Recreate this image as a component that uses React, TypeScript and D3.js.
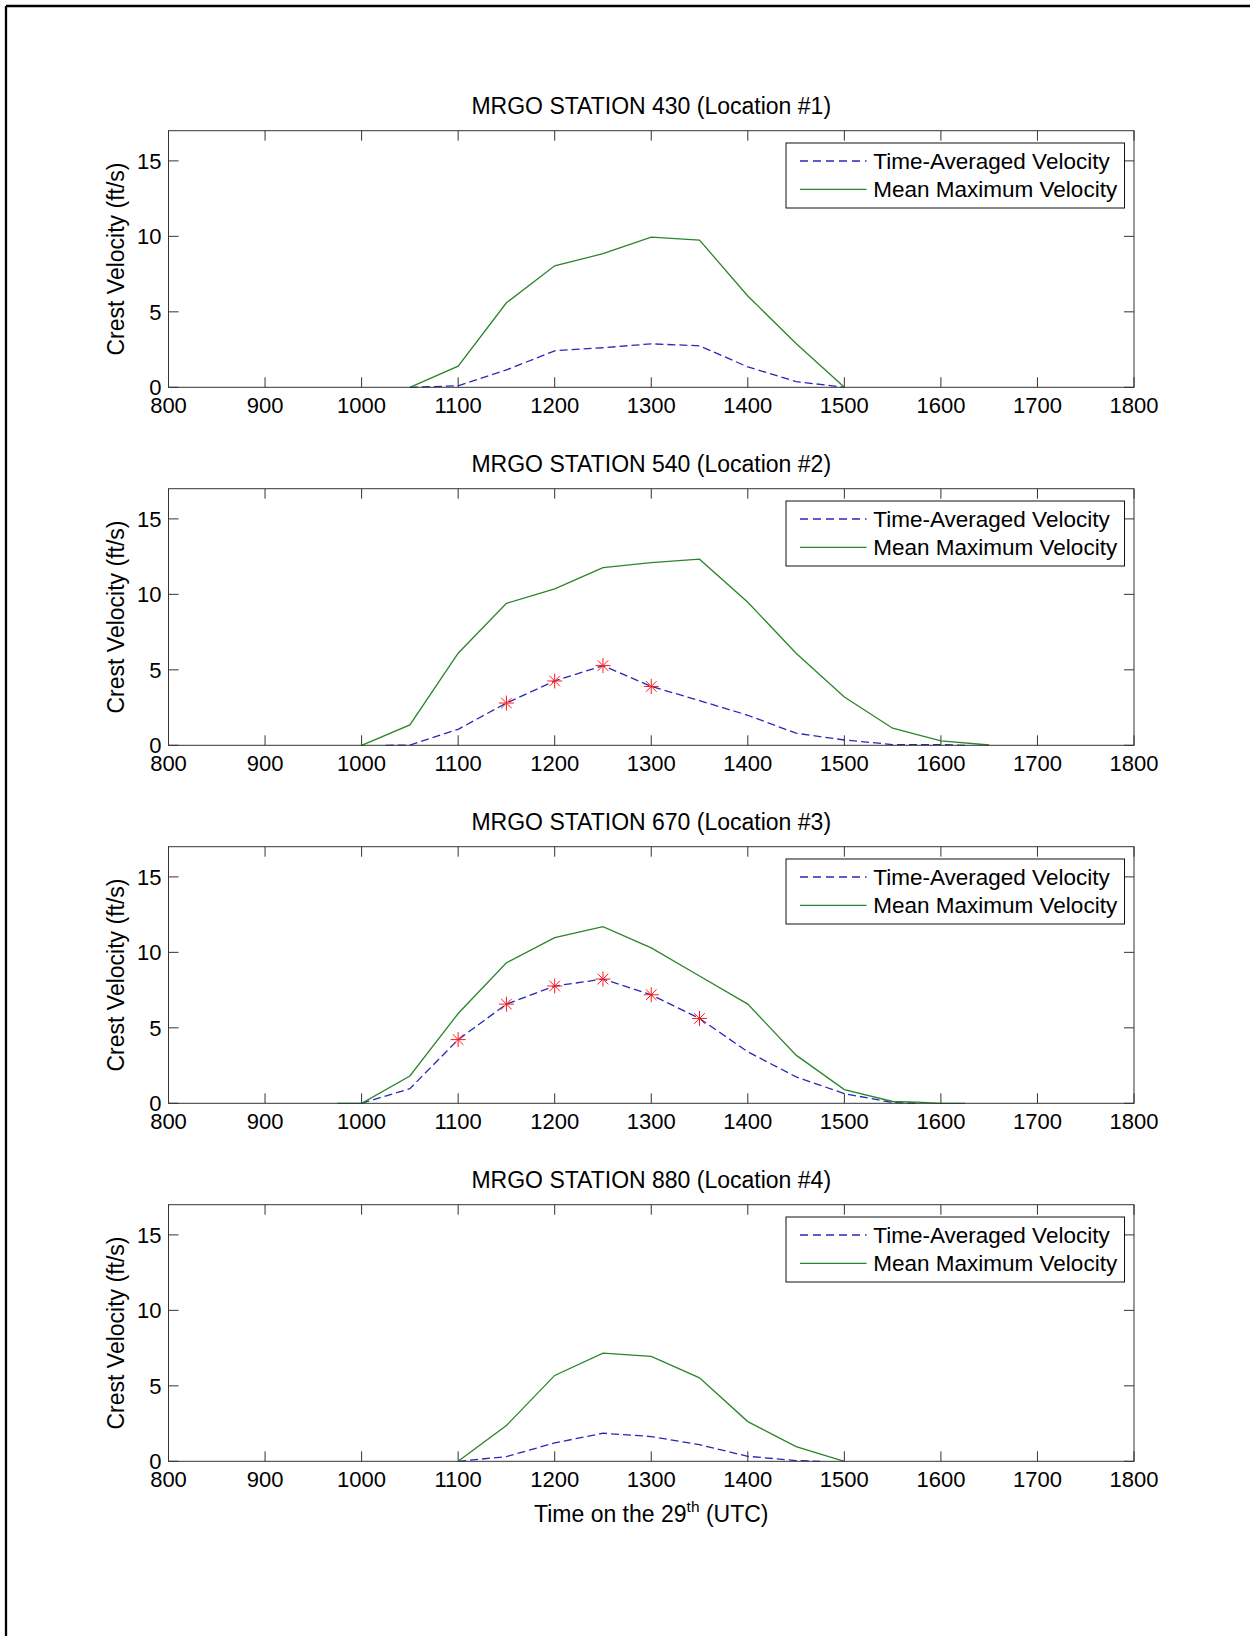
import React from "react";
import * as d3 from "d3";

const stations = ["MRGO STATION 430 (Location #1)", "MRGO STATION 540 (Location #2)", "MRGO STATION 670 (Location #3)", "MRGO STATION 880 (Location #4)"];

const maxTimes430 = [1050, 1100, 1150, 1200, 1250, 1300, 1350, 1400, 1450, 1500];
const maxVals430 = [0, 1.4, 5.6, 8.05, 8.85, 9.95, 9.75, 6.05, 2.9, 0];
const avgTimes430 = [1050, 1100, 1150, 1200, 1250, 1300, 1350, 1400, 1450, 1500];
const avgVals430 = [0, 0.1, 1.15, 2.42, 2.62, 2.88, 2.75, 1.35, 0.38, 0];
const markTimes430: number[] = [];

const maxTimes540 = [1000, 1050, 1100, 1150, 1200, 1250, 1300, 1350, 1400, 1450, 1500, 1550, 1600, 1650];
const maxVals540 = [0, 1.35, 6.1, 9.4, 10.36, 11.77, 12.1, 12.33, 9.48, 6.1, 3.2, 1.13, 0.29, 0.02];
const avgTimes540 = [1025, 1050, 1100, 1150, 1200, 1250, 1300, 1350, 1400, 1450, 1500, 1550, 1600, 1625];
const avgVals540 = [0, 0.02, 1.06, 2.8, 4.26, 5.28, 3.9, 2.96, 1.99, 0.8, 0.35, 0.05, 0.05, 0];
const markTimes540 = [1150, 1200, 1250, 1300];

const maxTimes670 = [975, 1000, 1050, 1100, 1150, 1200, 1250, 1300, 1350, 1400, 1450, 1500, 1550, 1575, 1600, 1625];
const maxVals670 = [0, 0, 1.81, 5.95, 9.31, 10.97, 11.7, 10.3, 8.43, 6.57, 3.19, 0.91, 0.12, 0.08, 0, 0];
const avgTimes670 = [1000, 1050, 1100, 1150, 1200, 1250, 1300, 1350, 1400, 1450, 1500, 1550, 1575];
const avgVals670 = [0, 0.97, 4.22, 6.57, 7.77, 8.23, 7.19, 5.62, 3.41, 1.75, 0.64, 0.05, 0];
const markTimes670 = [1100, 1150, 1200, 1250, 1300, 1350];

const maxTimes880 = [1100, 1150, 1200, 1250, 1300, 1350, 1400, 1450, 1500];
const maxVals880 = [0, 2.37, 5.69, 7.17, 6.95, 5.53, 2.63, 0.97, 0];
const avgTimes880 = [1100, 1150, 1200, 1250, 1300, 1350, 1400, 1450, 1475];
const avgVals880 = [0, 0.31, 1.22, 1.86, 1.64, 1.1, 0.33, 0.05, 0];
const markTimes880: number[] = [];

const xTicks = [800, 900, 1000, 1100, 1200, 1300, 1400, 1500, 1600, 1700, 1800];
const yTicks = [0, 5, 10, 15];
const legendLabels = ["Time-Averaged Velocity", "Mean Maximum Velocity"];

const panels = [
  { title: stations[0], mx: maxTimes430, my: maxVals430, ax: avgTimes430, ay: avgVals430, marks: markTimes430 },
  { title: stations[1], mx: maxTimes540, my: maxVals540, ax: avgTimes540, ay: avgVals540, marks: markTimes540 },
  { title: stations[2], mx: maxTimes670, my: maxVals670, ax: avgTimes670, ay: avgVals670, marks: markTimes670 },
  { title: stations[3], mx: maxTimes880, my: maxVals880, ax: avgTimes880, ay: avgVals880, marks: markTimes880 },
];

const FONT = "'Liberation Sans', Arial, sans-serif";
const FS = 22;
const FS_TITLE = 23;
const FS_LEG = 22.5;
const LEFT = 168.5;
const RIGHT = 1134;
const TOP0 = 130.7;
const STEP = 358;
const H = 256.6;
const BLUE = "#2828b8";
const GREEN = "#2a852a";
const AXIS = "#333";

function Panel({ p, top, showXLabel }: any) {
  const x = d3.scaleLinear().domain([800, 1800]).range([LEFT, RIGHT]);
  const y = d3.scaleLinear().domain([0, 17]).range([top + H, top]);
  const line = d3.line<[number, number]>().x((d) => x(d[0])).y((d) => y(d[1]));
  const maxPts = p.mx.map((t: number, i: number) => [t, p.my[i]] as [number, number]);
  const avgPts = p.ax.map((t: number, i: number) => [t, p.ay[i]] as [number, number]);
  const markPts = p.marks.map((t: number) => {
    const i = p.ax.indexOf(t);
    return [t, p.ay[i]] as [number, number];
  });
  const bottom = top + H;
  const lgX = 786;
  const lgY = top + 12.3;
  const s = 7.5;
  return (
    <g>
      <text x={(LEFT + RIGHT) / 2} y={top - 16.4} textAnchor="middle" fontFamily={FONT} fontSize={FS_TITLE} fill="#000">
        {p.title}
      </text>
      <rect x={LEFT} y={top} width={RIGHT - LEFT} height={H} fill="#fff" stroke="none" />
      {xTicks.map((t) => (
        <g key={"x" + t}>
          <line x1={x(t)} x2={x(t)} y1={bottom} y2={bottom - 10} stroke={AXIS} strokeWidth={1} />
          <line x1={x(t)} x2={x(t)} y1={top} y2={top + 10} stroke={AXIS} strokeWidth={1} />
          <text x={x(t)} y={bottom + 26} textAnchor="middle" fontFamily={FONT} fontSize={FS} fill="#000">
            {t}
          </text>
        </g>
      ))}
      {yTicks.map((t) => (
        <g key={"y" + t}>
          <line x1={LEFT} x2={LEFT + 10} y1={y(t)} y2={y(t)} stroke={AXIS} strokeWidth={1} />
          <line x1={RIGHT} x2={RIGHT - 10} y1={y(t)} y2={y(t)} stroke={AXIS} strokeWidth={1} />
          <text x={LEFT - 7} y={y(t) + 8} textAnchor="end" fontFamily={FONT} fontSize={FS} fill="#000">
            {t}
          </text>
        </g>
      ))}
      <text
        x={124}
        y={(top + bottom) / 2}
        transform={`rotate(-90, 124, ${(top + bottom) / 2})`}
        textAnchor="middle"
        fontFamily={FONT}
        fontSize={FS_TITLE}
        fill="#000"
      >
        Crest Velocity (ft/s)
      </text>
      <path d={line(avgPts) || ""} fill="none" stroke={BLUE} strokeWidth={1.3} strokeDasharray="8,4" />
      <path d={line(maxPts) || ""} fill="none" stroke={GREEN} strokeWidth={1.3} />
      {markPts.map((d: [number, number], i: number) => {
        const cx = x(d[0]);
        const cy = y(d[1]);
        const k = s * 0.7071;
        return (
          <g key={"m" + i} stroke="#ff1a1a" strokeWidth={1}>
            <line x1={cx - s} x2={cx + s} y1={cy} y2={cy} />
            <line x1={cx} x2={cx} y1={cy - s} y2={cy + s} />
            <line x1={cx - k} x2={cx + k} y1={cy - k} y2={cy + k} />
            <line x1={cx - k} x2={cx + k} y1={cy + k} y2={cy - k} />
          </g>
        );
      })}
      <rect x={LEFT} y={top} width={RIGHT - LEFT} height={H} fill="none" stroke={AXIS} strokeWidth={1} />
      <rect x={lgX} y={lgY} width={338.5} height={65} fill="#fff" stroke="#111" strokeWidth={1} />
      <line x1={800} x2={866.5} y1={lgY + 18} y2={lgY + 18} stroke={BLUE} strokeWidth={1.3} strokeDasharray="8,5" />
      <line x1={800} x2={866.5} y1={lgY + 46.3} y2={lgY + 46.3} stroke={GREEN} strokeWidth={1.3} />
      <text x={873.3} y={lgY + 18 + 8} fontFamily={FONT} fontSize={FS_LEG} fill="#000">
        {legendLabels[0]}
      </text>
      <text x={873.3} y={lgY + 46.3 + 8} fontFamily={FONT} fontSize={FS_LEG} fill="#000">
        {legendLabels[1]}
      </text>
      {showXLabel && (
        <text x={(LEFT + RIGHT) / 2} y={1521.7} textAnchor="middle" fontFamily={FONT} fontSize={FS_TITLE} fill="#000">
          Time on the 29
          <tspan fontSize={15.5} dy={-10}>th</tspan>
          <tspan dy={10}> (UTC)</tspan>
        </text>
      )}
    </g>
  );
}

export default function App() {
  return (
    <div style={{ position: "absolute", left: 0, top: 0, width: 1250, height: 1636, background: "#fff" }}>
      <svg width={1250} height={1636} style={{ display: "block" }}>
        <rect x={0} y={0} width={1250} height={1636} fill="#fff" />
        <line x1={6} x2={1250} y1={6} y2={6} stroke="#000" strokeWidth={2.3} />
        <line x1={6} x2={6} y1={6} y2={1636} stroke="#000" strokeWidth={2.3} />
        {panels.map((p, i) => (
          <Panel key={i} p={p} top={TOP0 + i * STEP} showXLabel={i === 3} />
        ))}
      </svg>
    </div>
  );
}
